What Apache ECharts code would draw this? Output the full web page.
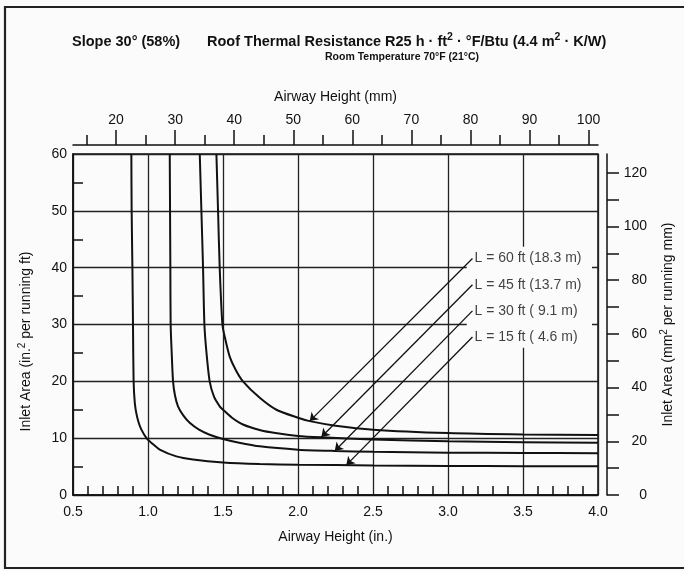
<!DOCTYPE html>
<html>
<head>
<meta charset="utf-8">
<script src="https://cdn.jsdelivr.net/npm/echarts@6/dist/echarts.min.js"></script>
<style>
html,body{margin:0;padding:0;background:#fbfbfb;}
#chart{width:684px;height:571px;}
</style>
</head>
<body>
<div id="chart"></div>
<script>
// ---- data ----
var xTicksIn = [0.5, 1.0, 1.5, 2.0, 2.5, 3.0, 3.5, 4.0];
var yTicksLeft = [0, 10, 20, 30, 40, 50, 60];
var topMajorMm = [20, 30, 40, 50, 60, 70, 80, 90, 100];
var topMinorMm = [15, 25, 35, 45, 55, 65, 75, 85, 95];
var rightTicks = [0, 10, 20, 30, 40, 50, 60, 70, 80, 90, 100, 110, 120];
var rightLabels = [0, 20, 40, 60, 80, 100, 120];

var lengthsFt = [60, 45, 30, 15];
var lengthsM = ['18.3', '13.7', ' 9.1', ' 4.6'];

var curve60 = [[1.456,60],[1.467,50],[1.478,40],[1.496,30],[1.511,27.9],[1.544,24.4],[1.585,22.0],[1.633,20.0],[1.745,17.1],[1.856,15.0],[2.0,13.6],[2.078,13.0],[2.25,12.2],[2.5,11.5],[3.0,10.9],[3.5,10.65],[4.0,10.55]];
var curve45 = [[1.345,60],[1.356,50],[1.367,40],[1.376,30],[1.39,25],[1.411,20],[1.44,17.3],[1.478,15.6],[1.5,15.0],[1.56,13.6],[1.633,12.4],[1.75,11.4],[1.85,10.9],[2.0,10.4],[2.156,10.15],[2.5,9.75],[3.0,9.45],[3.5,9.3],[4.0,9.18]];
var curve30 = [[1.145,60],[1.147,50],[1.149,40],[1.151,30],[1.158,25],[1.167,20],[1.18,17.5],[1.2,15.6],[1.235,14.0],[1.278,12.7],[1.34,11.5],[1.411,10.6],[1.5,9.86],[1.6,9.25],[1.745,8.56],[2.0,7.98],[2.245,7.75],[2.5,7.6],[3.0,7.45],[3.5,7.39],[4.0,7.36]];
var curve15 = [[0.889,60],[0.891,50],[0.896,40],[0.900,30],[0.904,20],[0.912,16.2],[0.922,14.4],[0.938,12.7],[0.956,11.5],[0.99,10.0],[1.03,9.0],[1.078,8.0],[1.189,6.8],[1.3,6.25],[1.5,5.74],[1.745,5.46],[2.0,5.33],[2.5,5.2],[3.0,5.12],[3.5,5.07],[4.0,5.04]];
var curves = [curve60, curve45, curve30, curve15];

// annotation anchors (in axis units): label start and arrow tip on each curve
var labelX = [3.163, 3.163, 3.163, 3.163];
var labelY = [41.6, 37.0, 32.4, 27.8];
var tipX = [2.078, 2.156, 2.245, 2.322];
var tipY = [13.0, 10.2, 7.75, 5.25];

// unit conversion: in.^2 per ft -> mm^2 per mm
var IN2FT_TO_MM2MM = 645.16 / 304.8;
var MM_PER_IN = 25.4;

var FONT = "'Liberation Sans', Arial, Helvetica, sans-serif";
var INK = '#111';
var BG = '#fbfbfb';

var chart = echarts.init(document.getElementById('chart'), null, {renderer: 'canvas'});

var seriesList = curves.map(function (c, i) {
  return {
    type: 'line',
    name: 'L = ' + lengthsFt[i] + ' ft',
    data: c,
    xAxisIndex: 0, yAxisIndex: 0,
    smooth: 0.25,
    symbol: 'none',
    clip: true,
    lineStyle: {color: INK, width: 2},
    z: 3
  };
});

var labelData = lengthsFt.map(function (ft, i) {
  return {value: [labelX[i], labelY[i]], name: 'L = ' + ft + ' ft (' + lengthsM[i] + ' m)'};
});
var arrowData = lengthsFt.map(function (ft, i) {
  return [{coord: [labelX[i], labelY[i]]}, {coord: [tipX[i], tipY[i]]}];
});

seriesList.push({
  type: 'scatter',
  name: 'labels',
  xAxisIndex: 0, yAxisIndex: 0,
  data: labelData,
  symbolSize: 0.1,
  itemStyle: {color: 'transparent'},
  silent: true,
  z: 4,
  label: {
    show: true, position: 'right', distance: 2,
    formatter: function (p) { return p.name; },
    color: INK, fontSize: 14, fontFamily: FONT
  },
  markArea: {
    silent: true,
    itemStyle: {color: BG},
    data: [[{coord: [3.125, 43.7]}, {coord: [3.96, 25.9]}]]
  },
  markLine: {
    silent: true,
    symbol: ['none', 'arrow'],
    symbolSize: 8,
    label: {show: false},
    lineStyle: {color: INK, width: 1.3, type: 'solid'},
    animation: false,
    data: arrowData
  }
});

var supRich = {
  a: {fontSize: 14, color: INK, fontFamily: FONT, lineHeight: 18},
  s: {fontSize: 10, color: INK, fontFamily: FONT, verticalAlign: 'top', lineHeight: 11},
  p: {width: 34, lineHeight: 18}
};

var option = {
  animation: false,
  backgroundColor: BG,
  textStyle: {fontFamily: FONT, color: INK},
  title: [
    {text: 'Slope 30° (58%)', left: 67, top: 29,
     textStyle: {fontSize: 14.5, fontWeight: 'bold', color: INK, fontFamily: FONT}},
    {text: '{a|Roof Thermal Resistance R25 h · ft}{s|2}{a| · °F/Btu (4.4 m}{s|2}{a| · K/W)}',
     left: 202, top: 27,
     textStyle: {
       rich: {
         a: {fontSize: 14.5, fontWeight: 'bold', color: INK, fontFamily: FONT, lineHeight: 20},
         s: {fontSize: 10.5, fontWeight: 'bold', color: INK, fontFamily: FONT, verticalAlign: 'top', lineHeight: 12}
       }
     }},
    {text: 'Room Temperature 70°F (21°C)', left: 320, top: 47,
     textStyle: {fontSize: 10.5, fontWeight: 'bold', color: INK, fontFamily: FONT}}
  ],
  grid: {left: 73, right: 86, top: 154, bottom: 76, show: true, borderColor: INK, borderWidth: 1.5, backgroundColor: 'transparent'},
  xAxis: [
    {
      type: 'value', position: 'bottom',
      min: xTicksIn[0], max: xTicksIn[xTicksIn.length - 1], interval: 0.5,
      name: 'Airway Height (in.)', nameLocation: 'middle', nameGap: 35,
      nameTextStyle: {fontSize: 14, color: INK, fontFamily: FONT},
      axisLine: {show: true, onZero: false, lineStyle: {color: INK, width: 1.5}},
      axisTick: {show: false, inside: true},
      minorTick: {show: true, splitNumber: 5, length: 9, lineStyle: {color: INK, width: 1.5}},
      axisLabel: {fontSize: 14, color: INK, margin: 10, formatter: function (v) { return v.toFixed(1); }},
      splitLine: {show: true, lineStyle: {color: '#222', width: 1.3}}
    },
    {
      type: 'value', position: 'top', offset: 9,
      min: xTicksIn[0] * MM_PER_IN, max: xTicksIn[xTicksIn.length - 1] * MM_PER_IN,
      name: 'Airway Height (mm)', nameLocation: 'middle', nameGap: 41,
      nameTextStyle: {fontSize: 14, color: INK, fontFamily: FONT},
      axisLine: {show: true, onZero: false, lineStyle: {color: INK, width: 1.5}},
      axisTick: {show: true, customValues: topMajorMm, length: 15, lineStyle: {color: INK, width: 1.5}},
      axisLabel: {show: true, customValues: topMajorMm, fontSize: 14, color: INK, margin: 18},
      splitLine: {show: false}
    },
    {
      type: 'value', position: 'top', offset: 9,
      min: xTicksIn[0] * MM_PER_IN, max: xTicksIn[xTicksIn.length - 1] * MM_PER_IN,
      axisLine: {show: false, onZero: false},
      axisTick: {show: true, customValues: topMinorMm, length: 10, lineStyle: {color: INK, width: 1.5}},
      axisLabel: {show: false},
      splitLine: {show: false}
    }
  ],
  yAxis: [
    {
      type: 'value', position: 'left',
      min: yTicksLeft[0], max: yTicksLeft[yTicksLeft.length - 1], interval: 10,
      name: '{a|Inlet Area (in.}{s|2}{a| per running ft)}{p|}',
      nameLocation: 'middle', nameGap: 38, nameRotate: 90,
      nameTextStyle: {rich: supRich},
      axisLine: {show: true, onZero: false, lineStyle: {color: INK, width: 1.5}},
      axisTick: {show: false, inside: true},
      minorTick: {show: true, splitNumber: 2, length: 10, lineStyle: {color: INK, width: 1.5}},
      axisLabel: {fontSize: 14, color: INK, margin: 6},
      splitLine: {show: true, lineStyle: {color: '#222', width: 1.3}}
    },
    {
      type: 'value', position: 'right', offset: 9,
      min: 0, max: yTicksLeft[yTicksLeft.length - 1] * IN2FT_TO_MM2MM,
      name: '{a|Inlet Area (mm}{s|2}{a| per running mm)}',
      nameLocation: 'middle', nameGap: 52, nameRotate: 90,
      nameTextStyle: {rich: supRich},
      axisLine: {show: true, onZero: false, lineStyle: {color: INK, width: 1.5}},
      axisTick: {show: true, customValues: rightTicks, length: 12, lineStyle: {color: INK, width: 1.5}},
      axisLabel: {show: true, customValues: rightLabels, fontSize: 14, color: INK, margin: 40, align: 'right'},
      splitLine: {show: false}
    }
  ],
  graphic: [
    {type: 'polyline', silent: true, z: 100,
     shape: {points: [[684, 7], [5, 7], [5, 568], [684, 568]]},
     style: {stroke: '#222', lineWidth: 2.2, fill: null}}
  ],
  series: seriesList
};

chart.setOption(option);
</script>
</body>
</html>
